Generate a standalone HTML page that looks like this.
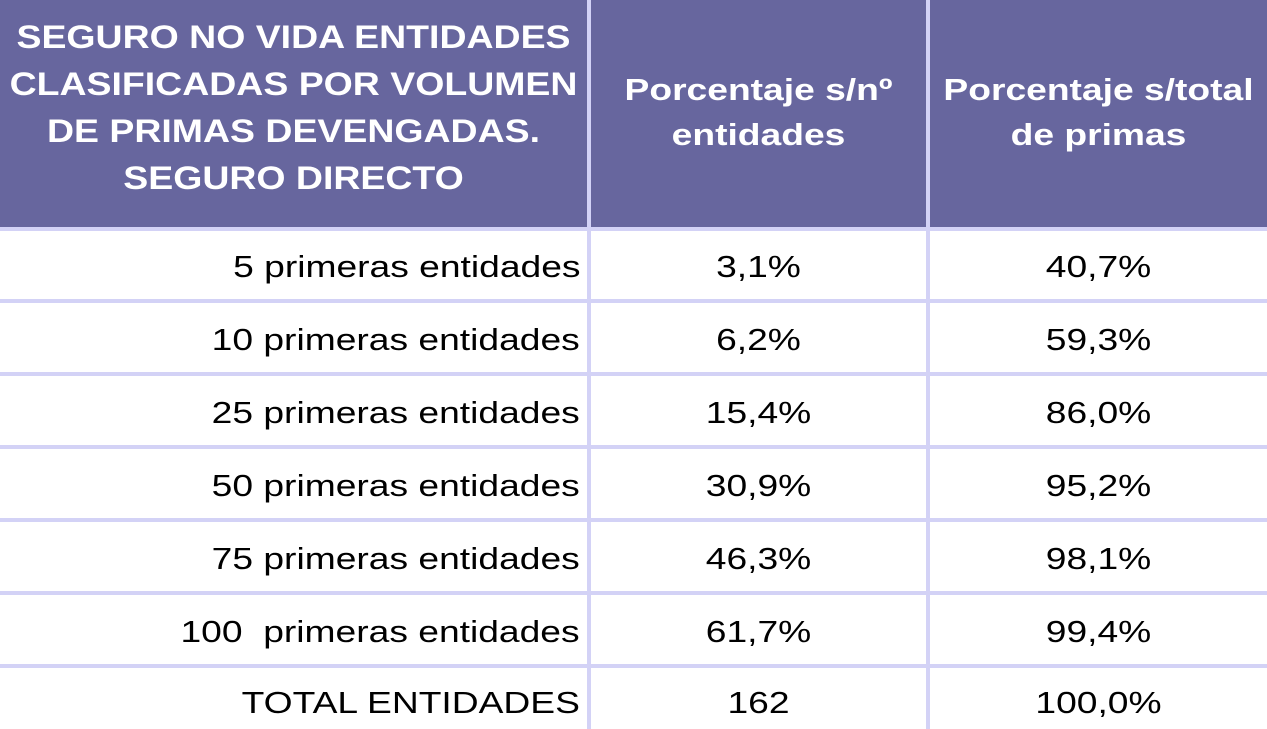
<!DOCTYPE html>
<html><head><style>
body{margin:0;width:1267px;height:729px;background:#fff;position:relative;overflow:hidden;font-family:"Liberation Sans",sans-serif}
.h{position:absolute;top:0;height:227px;background:#67669e}
.vl{position:absolute;top:0;height:729px;width:4px;background:#d3d2f6}
.hl{position:absolute;left:0;width:1267px;height:4px;background:#d3d2f6}
.t{position:absolute;font-size:31px;color:#000;line-height:36px;white-space:nowrap}
.r{transform:scaleX(1.2);transform-origin:right center}
.c{transform:scaleX(1.2);transform-origin:center center}
.w{position:absolute;color:#fff;font-weight:bold;white-space:nowrap;text-align:center;transform:scaleX(1.17);transform-origin:center center}
</style></head><body>
<div class="h" style="left:0;width:587px"></div>
<div class="h" style="left:591px;width:335px"></div>
<div class="h" style="left:930px;width:337px"></div>
<div class="vl" style="left:587px"></div>
<div class="vl" style="left:926px"></div>
<div class="hl" style="top:227px"></div>
<div class="hl" style="top:299px"></div>
<div class="hl" style="top:372px"></div>
<div class="hl" style="top:445px"></div>
<div class="hl" style="top:518px"></div>
<div class="hl" style="top:591px"></div>
<div class="hl" style="top:664px"></div>
<div class="w" style="left:0;top:14px;width:587px;font-size:32px;line-height:47px">SEGURO NO VIDA ENTIDADES<br>CLASIFICADAS POR VOLUMEN<br>DE PRIMAS DEVENGADAS.<br>SEGURO DIRECTO</div>
<div class="w" style="left:591px;top:67px;width:335px;font-size:31px;line-height:45px;transform:scaleX(1.2)">Porcentaje s/nº<br>entidades</div>
<div class="w" style="left:930px;top:67px;width:337px;font-size:31px;line-height:45px;transform:scaleX(1.2)">Porcentaje s/total<br>de primas</div>
<div class="t r" style="right:687px;top:249px">5 primeras entidades</div>
<div class="t r" style="right:687px;top:322px">10 primeras entidades</div>
<div class="t r" style="right:687px;top:395px">25 primeras entidades</div>
<div class="t r" style="right:687px;top:468px">50 primeras entidades</div>
<div class="t r" style="right:687px;top:541px">75 primeras entidades</div>
<div class="t r" style="right:687px;top:614px">100&nbsp; primeras entidades</div>
<div class="t r" style="right:687px;top:685px">TOTAL ENTIDADES</div>
<div class="t c" style="left:591px;width:335px;text-align:center;top:249px">3,1%</div>
<div class="t c" style="left:591px;width:335px;text-align:center;top:322px">6,2%</div>
<div class="t c" style="left:591px;width:335px;text-align:center;top:395px">15,4%</div>
<div class="t c" style="left:591px;width:335px;text-align:center;top:468px">30,9%</div>
<div class="t c" style="left:591px;width:335px;text-align:center;top:541px">46,3%</div>
<div class="t c" style="left:591px;width:335px;text-align:center;top:614px">61,7%</div>
<div class="t c" style="left:591px;width:335px;text-align:center;top:685px">162</div>
<div class="t c" style="left:930px;width:337px;text-align:center;top:249px">40,7%</div>
<div class="t c" style="left:930px;width:337px;text-align:center;top:322px">59,3%</div>
<div class="t c" style="left:930px;width:337px;text-align:center;top:395px">86,0%</div>
<div class="t c" style="left:930px;width:337px;text-align:center;top:468px">95,2%</div>
<div class="t c" style="left:930px;width:337px;text-align:center;top:541px">98,1%</div>
<div class="t c" style="left:930px;width:337px;text-align:center;top:614px">99,4%</div>
<div class="t c" style="left:930px;width:337px;text-align:center;top:685px">100,0%</div>
</body></html>
